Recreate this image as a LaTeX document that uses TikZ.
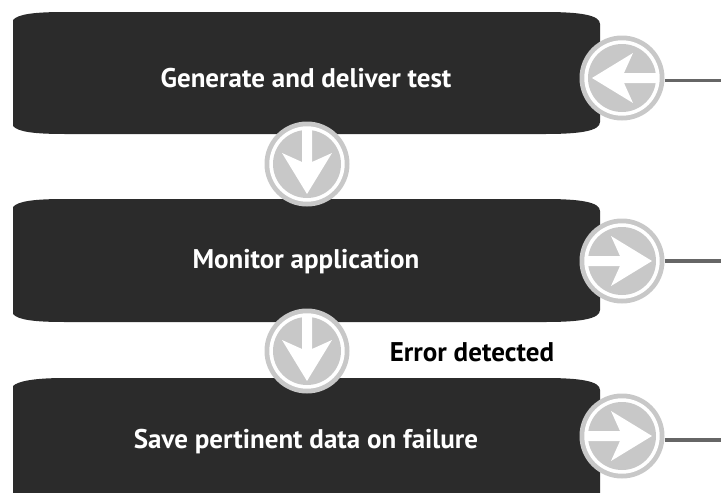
\documentclass[tikz,border=0pt]{standalone}
\usepackage{fontspec}
\setmainfont{PT Sans}
\definecolor{boxdark}{HTML}{2B2B2B}
\definecolor{ringgray}{HTML}{C8C8C8}
\definecolor{linegray}{HTML}{666666}
\tikzset{
  boxlabel/.style={text=white,font=\fontsize{27}{30}\selectfont\bfseries,inner sep=0pt,anchor=center},
  plainlabel/.style={text=black,font=\fontsize{27}{30}\selectfont\bfseries,inner sep=0pt,anchor=center},
  darkbox/.style={fill=boxdark,draw=none},
  wireline/.style={draw=linegray,line width=3.5pt},
  portcircle/.style={circle,fill=ringgray,draw=none,minimum size=85pt,inner sep=0pt},
  pics/arrowdisc/.style={code={
    \fill[white] (0,0) circle[radius=37.7pt];
    \fill[ringgray] (0,0) circle[radius=34pt];
    \fill[white] (-5,-35) -- (-5,-2) -- (-25,-11) -- (0,30) -- (25,-11) -- (5,-2) -- (5,-35) -- cycle;
  }}
}
\newcommand{\bigbox}[2]{%
  \path[darkbox] (13,#1+8) .. controls (18,#1+2) and (35,#1) .. (65,#1)
    -- (545,#1) .. controls (580,#1) and (600,#1+3) .. (600,#1+12)
    -- (600,#2-12) .. controls (600,#2-3) and (580,#2) .. (545,#2)
    -- (65,#2) .. controls (35,#2) and (18,#2-2) .. (13,#2-8) -- cycle;}
\begin{document}
\begin{tikzpicture}[x=1pt,y=-1pt]
\useasboundingbox (0,0) rectangle (721,493);
\bigbox{12}{134}
\bigbox{199}{322}
\path[darkbox] (13,386) .. controls (18,381) and (35,378) .. (65,378)
    -- (545,378) .. controls (580,378) and (600,381) .. (600,390)
    -- (600,493) -- (13,493) -- cycle;
\node[boxlabel] (genlabel) at (306,78) {Generate and deliver test};
\node[boxlabel] (monlabel) at (306,262) {Monitor application};
\node[boxlabel] (savlabel) at (306,442) {Save pertinent data on failure};
\node[plainlabel] (errlabel) at (472,352) {Error detected};
\node[portcircle] (c1) at (622,78) {};
\node[portcircle] (c2) at (622,261) {};
\node[portcircle] (c3) at (622,436) {};
\node[portcircle] (d1) at (307,164) {};
\node[portcircle] (d2) at (307,351) {};
\pic[rotate=-90] at (c1.center) {arrowdisc};
\pic[rotate=90] at (c2.center) {arrowdisc};
\pic[rotate=90] at (c3.center) {arrowdisc};
\pic at (d1.center) {arrowdisc};
\pic at (d2.center) {arrowdisc};
\coordinate (e1) at (721,80.5);
\coordinate (e2) at (721,261);
\coordinate (e3) at (721,440);
\draw[wireline] (c1.east |- e1) -- (e1);
\draw[wireline] (c2.east |- e2) -- (e2);
\draw[wireline] (c3.east |- e3) -- (e3);
\end{tikzpicture}
\end{document}
